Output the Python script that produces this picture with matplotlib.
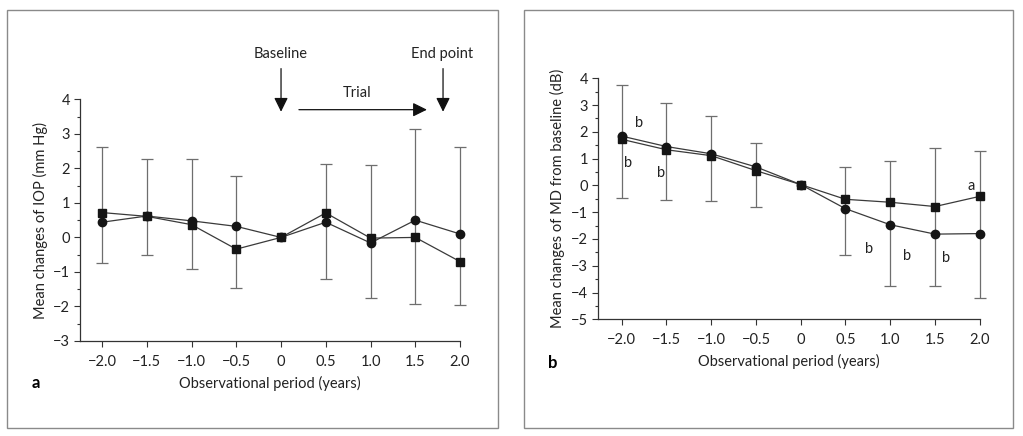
import matplotlib
matplotlib.use("Agg")
import matplotlib.pyplot as plt
import numpy as np
from matplotlib.patches import Rectangle

plt.rcParams['font.family'] = ['Lato', 'DejaVu Sans']

# observational period (years)
years = [-2.0, -1.5, -1.0, -0.5, 0.0, 0.5, 1.0, 1.5, 2.0]
xtick_labels = ['\u22122.0', '\u22121.5', '\u22121.0', '\u22120.5', '0', '0.5', '1.0', '1.5', '2.0']

# panel a: IOP changes (mm Hg)
iop_circle = [0.44, 0.62, 0.48, 0.32, 0.0, 0.44, -0.16, 0.50, 0.10]
iop_square = [0.72, 0.61, 0.37, -0.34, 0.0, 0.71, -0.02, 0.0, -0.70]
iop_err_hi = [2.61, 2.28, 2.28, 1.78, np.nan, 2.14, 2.11, 3.15, 2.63]
iop_err_lo = [-0.74, -0.51, -0.92, -1.46, np.nan, -1.19, -1.75, -1.94, -1.97]

# panel b: MD changes from baseline (dB)
md_circle = [1.84, 1.45, 1.18, 0.69, 0.03, -0.87, -1.47, -1.82, -1.80]
md_square = [1.72, 1.33, 1.11, 0.55, 0.03, -0.52, -0.63, -0.79, -0.41]
md_err_hi = [3.74, 3.07, 2.58, 1.58, np.nan, 0.67, 0.91, 1.38, 1.28]
md_err_lo = [-0.47, -0.55, -0.57, -0.81, np.nan, -2.60, -3.76, -3.74, -4.21]

# significance letters in panel b
sig_text = ['b', 'b', 'b', 'b', 'b', 'b', 'a']
sig_x = [-1.81, -1.93, -1.56, 0.76, 1.19, 1.62, 1.91]
sig_y = [2.32, 0.82, 0.47, -2.36, -2.62, -2.70, -0.02]

W, H = 1023, 436
fig = plt.figure(figsize=(W / 100, H / 100), dpi=100)

# panel frames
for x0, x1 in [(7, 498), (524, 1013)]:
    fig.patches.append(Rectangle((x0 / W, 1 - 428 / H), (x1 - x0) / W, 418 / H,
                                 transform=fig.transFigure, fill=False,
                                 edgecolor='#8a8a8a', linewidth=1.0))

ax1 = fig.add_axes([0.0782, 0.2179, 0.3715, 0.5543])
ax2 = fig.add_axes([0.5843, 0.2677, 0.3734, 0.5528])


def draw_panel(ax, circ, sq, lo, hi, ylim, xlim_left, ylabel):
    lo = np.array(lo)
    hi = np.array(hi)
    ok = ~np.isnan(lo)
    x = np.array(years)
    mid = (lo + hi) / 2
    ax.errorbar(x[ok], mid[ok], yerr=((hi - lo) / 2)[ok], fmt='none',
                ecolor='#6e6e6e', elinewidth=0.9, capsize=4, capthick=0.9,
                zorder=1, clip_on=False)
    ax.plot(years, circ, color='#3a3a3a', lw=0.9, marker='o', ms=6,
            mfc='#151515', mec='#151515', zorder=3, clip_on=False)
    ax.plot(years, sq, color='#3a3a3a', lw=0.9, marker='s', ms=6.4,
            mfc='#151515', mec='#151515', zorder=3, clip_on=False)
    ax.set_xlim(xlim_left, 2.0)
    ax.set_ylim(*ylim)
    ax.set_xticks(years)
    ax.set_xticklabels(xtick_labels)
    yt = np.arange(ylim[0], ylim[1] + 1)
    ax.set_yticks(yt)
    ax.set_yticklabels([str(v).replace('-', '\u2212') for v in yt])
    ax.set_yticks(np.arange(ylim[0], ylim[1] + 0.01, 0.5), minor=True)
    for s in ['top', 'right']:
        ax.spines[s].set_visible(False)
    for s in ['left', 'bottom']:
        ax.spines[s].set_color('#333333')
        ax.spines[s].set_linewidth(0.9)
    ax.tick_params(axis='both', which='major', length=4, width=0.8,
                   color='#333333', labelsize=10.5, labelcolor='#222222')
    ax.tick_params(axis='x', which='major', pad=6)
    ax.tick_params(axis='y', which='major', pad=3)
    ax.tick_params(axis='y', which='minor', length=2.5, width=0.8, color='#333333')
    ax.set_xlabel('Observational period (years)', fontsize=10.5, color='#222222', labelpad=5)
    ax.set_ylabel(ylabel, fontsize=10.5, color='#222222', labelpad=4)


draw_panel(ax1, iop_circle, iop_square, iop_err_lo, iop_err_hi, (-3, 4), -2.246,
           'Mean changes of IOP (mm Hg)')
draw_panel(ax2, md_circle, md_square, md_err_lo, md_err_hi, (-5, 4), -2.268,
           'Mean changes of MD from baseline (dB)')

# arrows and labels above panel a
arrow = dict(arrowstyle='-|>,head_length=0.85,head_width=0.42', color='#111111', lw=0.9,
             shrinkA=0, shrinkB=0)
ax1.annotate('', xy=(0.0, 3.64), xytext=(0.0, 4.89), arrowprops=arrow, annotation_clip=False)
ax1.annotate('', xy=(1.81, 3.64), xytext=(1.81, 4.89), arrowprops=arrow, annotation_clip=False)
ax1.annotate('', xy=(1.63, 3.70), xytext=(0.2, 3.70), arrowprops=arrow, annotation_clip=False)
ax1.text(0.0, 5.30, 'Baseline', ha='center', va='center', fontsize=10.5, color='#222222')
ax1.text(1.80, 5.30, 'End point', ha='center', va='center', fontsize=10.5, color='#222222')
ax1.text(0.85, 4.19, 'Trial', ha='center', va='center', fontsize=10.5, color='#222222')

for t, sx, sy in zip(sig_text, sig_x, sig_y):
    ax2.text(sx, sy, t, ha='center', va='center', fontsize=10.5, color='#222222')

fig.text(36 / W, 1 - 383 / H, 'a', ha='center', va='center', fontsize=12, fontweight='bold')
fig.text(553 / W, 1 - 363 / H, 'b', ha='center', va='center', fontsize=12, fontweight='bold')

fig.savefig('out.png', dpi=100)
